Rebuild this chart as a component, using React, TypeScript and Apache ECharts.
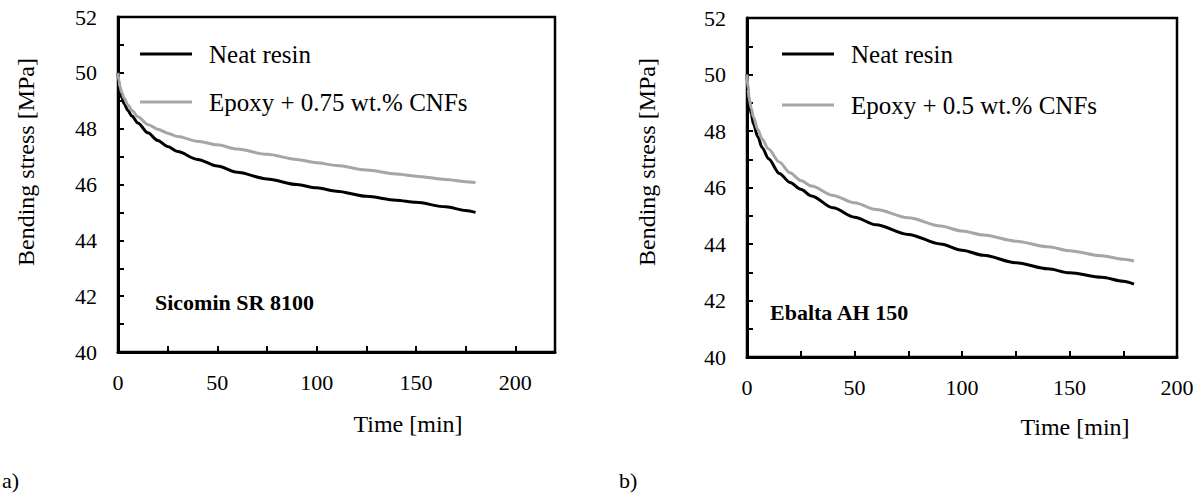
import React, { useEffect, useRef } from "react";
import * as echarts from "echarts";

const timeMin = [0, 0.5, 1, 2, 3, 5, 7, 10, 15, 20, 25, 30, 40, 50, 60, 75, 90, 100, 110, 125, 140, 150, 165, 175, 180];

// Panel a) Sicomin SR 8100
const sicominNeat = [50.0, 49.6, 49.35, 49.1, 48.9, 48.65, 48.45, 48.2, 47.85, 47.58, 47.36, 47.18, 46.9, 46.66, 46.44, 46.2, 46.0, 45.88, 45.76, 45.58, 45.44, 45.36, 45.2, 45.07, 45.0];
const sicominCNF = [50.0, 49.7, 49.5, 49.28, 49.1, 48.85, 48.65, 48.43, 48.15, 47.98, 47.84, 47.72, 47.55, 47.42, 47.27, 47.08, 46.9, 46.78, 46.68, 46.52, 46.38, 46.3, 46.18, 46.1, 46.07];

// Panel b) Ebalta AH 150
const ebaltaNeat = [50.0, 49.4, 49.0, 48.6, 48.25, 47.8, 47.42, 47.02, 46.5, 46.18, 45.94, 45.7, 45.28, 44.95, 44.68, 44.34, 44.0, 43.78, 43.6, 43.34, 43.12, 42.98, 42.82, 42.68, 42.58];
const ebaltaCNF = [50.0, 49.5, 49.15, 48.8, 48.5, 48.05, 47.72, 47.36, 46.9, 46.52, 46.25, 46.05, 45.72, 45.46, 45.22, 44.93, 44.64, 44.46, 44.32, 44.1, 43.9, 43.76, 43.58, 43.46, 43.4];

const seriesNames = ["Neat resin", "Epoxy + 0.75 wt.% CNFs", "Epoxy + 0.5 wt.% CNFs"];
const panelTitles = ["Sicomin SR 8100", "Ebalta AH 150"];
const panelLetters = ["a)", "b)"];
const yAxisTitle = "Bending stress [MPa]";
const xAxisTitle = "Time [min]";
const xMax = [220, 200];

const FONT = "Liberation Serif";
const GRAY = "#a6a6a6";

function pairs(xs: number[], ys: number[]) {
  return xs.map((x, i) => [x, ys[i]]);
}

function makeX(gridIndex: number, max: number) {
  return {
    type: "value",
    gridIndex,
    min: 0,
    max,
    interval: 25,
    axisLine: { show: true, onZero: false, lineStyle: { color: "#000", width: 3 } },
    axisTick: { show: true, inside: true, length: 6, lineStyle: { color: "#000", width: 2 } },
    axisLabel: {
      show: true,
      margin: 19,
      fontSize: 22,
      fontFamily: FONT,
      color: "#000",
      formatter: (v: number) => (v % 50 === 0 && v <= 200 ? String(v) : ""),
    },
    splitLine: { show: false },
  };
}

function makeY(gridIndex: number) {
  return {
    type: "value",
    gridIndex,
    min: 40,
    max: 52,
    interval: 1,
    axisLine: { show: true, onZero: false, lineStyle: { color: "#000", width: 3 } },
    axisTick: { show: true, inside: true, length: 6, lineStyle: { color: "#000", width: 2 } },
    axisLabel: {
      show: true,
      margin: 21,
      fontSize: 22,
      fontFamily: FONT,
      color: "#000",
      formatter: (v: number) => (v % 2 === 0 ? String(v) : ""),
    },
    splitLine: { show: false },
  };
}

function lineSeries(name: string, idx: number, data: number[][], color: string) {
  return {
    type: "line",
    name,
    xAxisIndex: idx,
    yAxisIndex: idx,
    data,
    showSymbol: false,
    symbol: "none",
    smooth: 0.3,
    smoothMonotone: "x",
    lineStyle: { color, width: 3 },
    z: color === "#000" ? 3 : 4,
  };
}

function txt(x: number, y: number, text: string, size: number, extra: any = {}) {
  return {
    type: "text",
    x,
    y,
    rotation: extra.rotation || 0,
    style: {
      text,
      fontSize: size,
      fontFamily: FONT,
      fontWeight: extra.bold ? "bold" : "normal",
      fill: "#000",
      align: extra.align || "left",
      verticalAlign: "middle",
    },
  };
}

function legendItems(x0: number, yTop: number, yBot: number, name2: string) {
  return [
    { type: "line", shape: { x1: x0, y1: yTop, x2: x0 + 52, y2: yTop }, style: { stroke: "#000", lineWidth: 3 } },
    txt(x0 + 69, yTop, seriesNames[0], 25),
    { type: "line", shape: { x1: x0, y1: yBot, x2: x0 + 52, y2: yBot }, style: { stroke: GRAY, lineWidth: 3 } },
    txt(x0 + 69, yBot, name2, 25),
  ];
}

export default function App() {
  const ref = useRef<HTMLDivElement>(null);
  useEffect(() => {
    if (!ref.current) return;
    const chart = echarts.init(ref.current, undefined, { renderer: "svg" });
    const option = {
      animation: false,
      backgroundColor: "#fff",
      textStyle: { fontFamily: FONT },
      grid: [
        { left: 118, top: 17, width: 437, height: 335, show: true, borderColor: "#000", borderWidth: 2.5, backgroundColor: "transparent" },
        { left: 747, top: 18, width: 430, height: 339, show: true, borderColor: "#000", borderWidth: 2.5, backgroundColor: "transparent" },
      ],
      xAxis: [makeX(0, xMax[0]), makeX(1, xMax[1])],
      yAxis: [makeY(0), makeY(1)],
      series: [
        lineSeries(seriesNames[0], 0, pairs(timeMin, sicominNeat), "#000"),
        lineSeries(seriesNames[1], 0, pairs(timeMin, sicominCNF), GRAY),
        lineSeries(seriesNames[0], 1, pairs(timeMin, ebaltaNeat), "#000"),
        lineSeries(seriesNames[2], 1, pairs(timeMin, ebaltaCNF), GRAY),
      ],
      graphic: [
        ...legendItems(140, 54, 102, seriesNames[1]),
        ...legendItems(782, 54, 105, seriesNames[2]),
        txt(155, 302, panelTitles[0], 22, { bold: true }),
        txt(770, 312, panelTitles[1], 22, { bold: true }),
        txt(26, 162, yAxisTitle, 24, { rotation: Math.PI / 2, align: "center" }),
        txt(647, 162, yAxisTitle, 24, { rotation: Math.PI / 2, align: "center" }),
        txt(408, 424, xAxisTitle, 24, { align: "center" }),
        txt(1075, 427, xAxisTitle, 24, { align: "center" }),
        txt(2, 480, panelLetters[0], 22),
        txt(619, 480, panelLetters[1], 22),
      ],
    };
    chart.setOption(option as any);
    return () => chart.dispose();
  }, []);
  return <div ref={ref} style={{ position: "absolute", left: 0, top: 0, width: 1200, height: 493 }} />;
}
